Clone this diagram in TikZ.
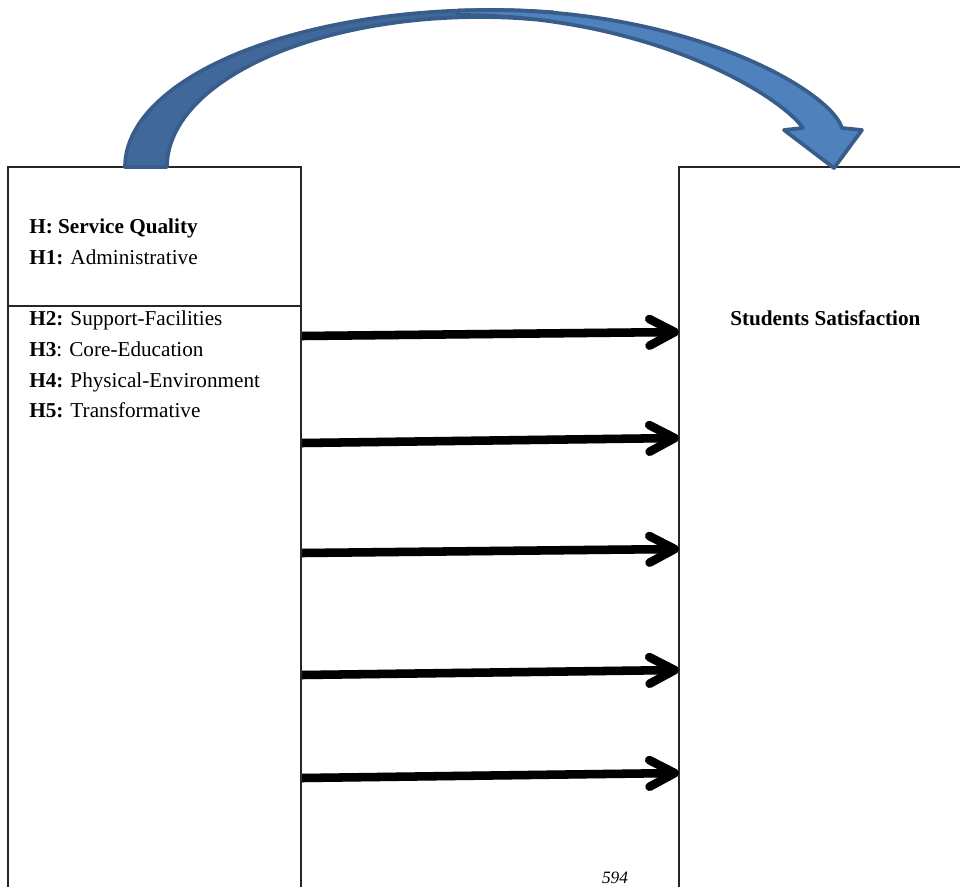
\documentclass[tikz,border=0pt]{standalone}
\usepackage{fontspec}
\setmainfont{Liberation Serif}
\usetikzlibrary{arrows.meta}
\definecolor{arcfront}{HTML}{4F81BD}
\definecolor{arcback}{HTML}{41689B}
\definecolor{arcline}{HTML}{385D8A}
\tikzset{
  hyptext/.style={anchor=base west, inner sep=0pt, font=\fontsize{15.9}{19}\selectfont},
  hyparrow/.style={line width=6.4pt, line cap=butt,
                   -{Straight Barb[length=19pt, width=20pt, line cap=round, line join=round]}},
  boxline/.style={draw=black!85, line width=0.9pt},
  arcpart/.style={draw=arcline, line width=2.8pt, line join=round},
}

\begin{document}
\begin{tikzpicture}[x=0.75pt, y=-0.75pt]
    \useasboundingbox (0,0) rectangle (960,886);
    \clip (0,0) rectangle (960,886);
    % Service quality box
    \draw[boxline] (8,167) rectangle (301,306);
    \draw[boxline] (8,306) rectangle (301,1000);
    % Satisfaction box
    \draw[boxline] (679,167) rectangle (990,1000);
    % Curved arrow, back part
    \filldraw[arcpart, fill=arcback]
        (125,167) arc[start angle=180, end angle=280, x radius=365, y radius=157]
        -- (534.3,19.3) arc[start angle=280, end angle=180, x radius=313, y radius=150] -- cycle;
    % Curved arrow, front part
    \filldraw[arcpart, fill=arcfront]
        (458,10.6) -- (490,10) .. controls (690,10) and (830,90) .. (842,128)
        -- (862,130) -- (834,168) -- (784,130) -- (803,128)
        .. controls (780,95) and (650,15) .. (458,15) -- cycle;
    % Labels
    \node[hyptext] (hsq) at (29,233) {\textbf{H: Service Quality}};
    \node[hyptext] (hadm) at (29,264) {\textbf{H1:} Administrative};
    \node[hyptext] (hsup) at (29,325) {\textbf{H2:} Support-Facilities};
    \node[hyptext] (hcore) at (29,356) {\textbf{H3}: Core-Education};
    \node[hyptext] (hphy) at (29,387) {\textbf{H4:} Physical-Environment};
    \node[hyptext] (htra) at (29,417) {\textbf{H5:} Transformative};
    \node[hyptext] (sat) at (730,325) {\textbf{Students Satisfaction}};
    \node[anchor=base, inner sep=0pt, font=\fontsize{13}{15}\selectfont\itshape] (page) at (615,883) {594};
    % Hypothesis arrows
    \foreach \i/\ys/\ye in {1/336/332, 2/443/438, 3/553/549, 4/675/670, 5/778/773} {
        \coordinate (src\i) at (302,\ys);
        \coordinate (dst\i) at (679,\ye);
        \draw[hyparrow, black!18, shift={(2,4)}] (src\i) -- (dst\i);
        \draw[hyparrow] (src\i) -- (dst\i);
    }
\end{tikzpicture}
\end{document}
